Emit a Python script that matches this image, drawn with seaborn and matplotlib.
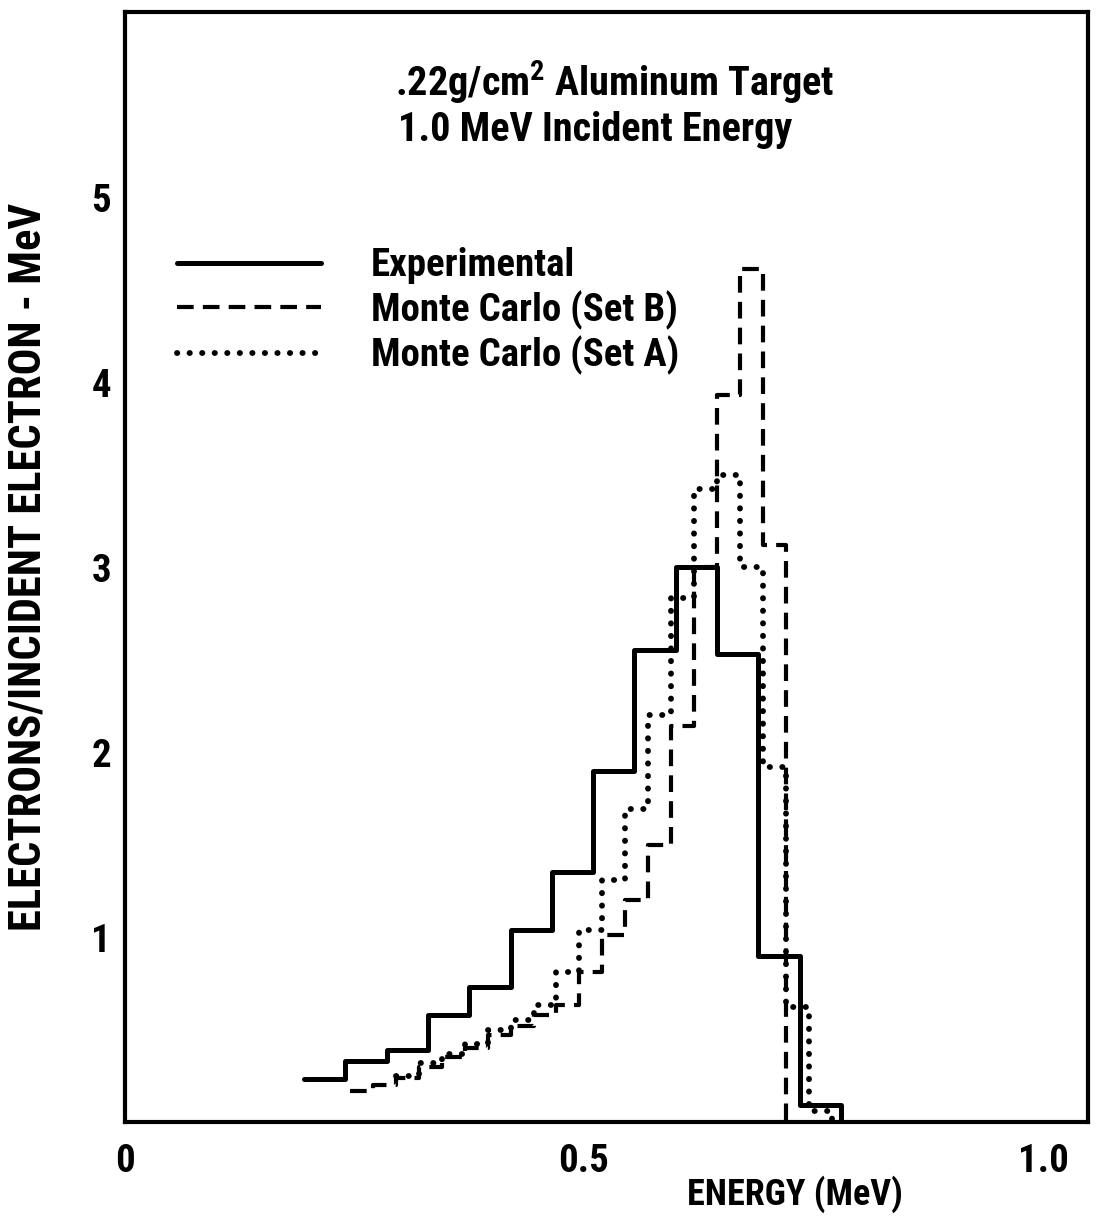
import matplotlib
matplotlib.use("Agg")
import matplotlib.pyplot as plt
import seaborn as sns
import pandas as pd

# ---- data ----
exp_edges = [0.195, 0.24, 0.285, 0.33, 0.375, 0.42, 0.465, 0.51, 0.555, 0.60, 0.645, 0.69, 0.735, 0.78]
exp_values = [0.23, 0.33, 0.39, 0.58, 0.73, 1.04, 1.35, 1.90, 2.55, 3.00, 2.53, 0.90, 0.09]

mcb_edges = [0.245, 0.27, 0.295, 0.32, 0.345, 0.37, 0.395, 0.42, 0.445, 0.47, 0.495,
             0.52, 0.545, 0.57, 0.595, 0.62, 0.645, 0.67, 0.695, 0.72]
mcb_values = [0.17, 0.20, 0.24, 0.30, 0.35, 0.40, 0.47, 0.52, 0.58, 0.63, 0.81,
              1.01, 1.20, 1.50, 2.14, 3.00, 3.93, 4.61, 3.12]

mca_edges = [0.295, 0.32, 0.345, 0.37, 0.395, 0.42, 0.445, 0.47, 0.495, 0.52, 0.545,
             0.57, 0.595, 0.62, 0.645, 0.67, 0.695, 0.72, 0.745, 0.77]
mca_values = [0.25, 0.32, 0.37, 0.42, 0.50, 0.55, 0.63, 0.81, 1.04, 1.31, 1.69,
              2.20, 2.83, 3.42, 3.50, 3.00, 1.92, 0.62, 0.06]

series_labels = ["Experimental", "Monte Carlo (Set B)", "Monte Carlo (Set A)"]
x_ticks = [0, 0.5, 1.0]
x_tick_labels = ["0", "0.5", "1.0"]
y_ticks = [1, 2, 3, 4, 5]
y_tick_labels = ["1", "2", "3", "4", "5"]
title_lines = [".22g/cm$^{\\mathbf{2}}$ Aluminum Target", "1.0 MeV Incident Energy"]
x_label = "ENERGY (MeV)"
y_label = "ELECTRONS/INCIDENT ELECTRON - MeV"

sns.set_theme(style="white")
FONT = ["Roboto Condensed", "Liberation Sans Narrow", "Roboto", "DejaVu Sans"]
plt.rcParams["font.family"] = FONT
plt.rcParams["font.weight"] = "bold"
plt.rcParams["mathtext.fontset"] = "custom"
plt.rcParams["mathtext.rm"] = "Roboto Condensed:bold"
plt.rcParams["mathtext.it"] = "Roboto Condensed:bold"
plt.rcParams["mathtext.bf"] = "Roboto Condensed:bold"
plt.rcParams["mathtext.default"] = "bf"

fig = plt.figure(figsize=(11.11, 12.16), dpi=100)
ax = fig.add_axes([0.1125, 0.0773, 0.8668, 0.9128])


def step_frame(edges, values):
    return pd.DataFrame({"x": edges, "y": list(values) + [0.0]})


sns.lineplot(data=step_frame(exp_edges, exp_values), x="x", y="y", ax=ax,
             color="black", lw=3.6, drawstyle="steps-post", estimator=None,
             sort=False, label=series_labels[0])
sns.lineplot(data=step_frame(mcb_edges, mcb_values), x="x", y="y", ax=ax,
             color="black", lw=3.0, drawstyle="steps-post", estimator=None,
             sort=False, linestyle=(0, (4.0, 2.2)), label=series_labels[1])
sns.lineplot(data=step_frame(mca_edges, mca_values), x="x", y="y", ax=ax,
             color="black", lw=4.2, drawstyle="steps-post", estimator=None,
             sort=False, linestyle=(0, (0.05, 2.1)), dash_capstyle="round",
             label=series_labels[2])

ax.set_xlim(0, 1.049)
ax.set_ylim(0, 6.0)
ax.set_xticks(x_ticks)
ax.set_xticklabels(x_tick_labels, fontweight="bold")
ax.set_yticks(y_ticks)
ax.set_yticklabels(y_tick_labels, fontweight="bold")
ax.tick_params(direction="in", length=14, width=2, colors="black",
               labelsize=28)
ax.tick_params(axis="x", pad=15)
ax.tick_params(axis="y", pad=10)

for sp in ax.spines.values():
    sp.set_visible(True)
    sp.set_color("black")
    sp.set_linewidth(3)

ax.set_xlabel(x_label, fontsize=26, color="black", fontweight="bold")
ax.xaxis.set_label_coords(0.696, -0.048)
ax.set_ylabel(y_label, fontsize=32, color="black", fontweight="bold")
ax.yaxis.set_label_coords(-0.078, 0.5)

ax.text(0.28, 0.937, title_lines[0], transform=ax.transAxes, fontsize=29,
        ha="left", va="center", color="black", fontweight="bold")
ax.text(0.283, 0.894, title_lines[1], transform=ax.transAxes, fontsize=29,
        ha="left", va="center", color="black", fontweight="bold")

leg = ax.legend(loc="upper left", bbox_to_anchor=(0.038, 0.802), frameon=False,
                prop={"size": 28, "weight": "bold"}, handlelength=3.7,
                handletextpad=1.28, labelspacing=0.15, borderaxespad=0)
for t in leg.get_texts():
    t.set_color("black")

fig.savefig("out.png", dpi=100)
